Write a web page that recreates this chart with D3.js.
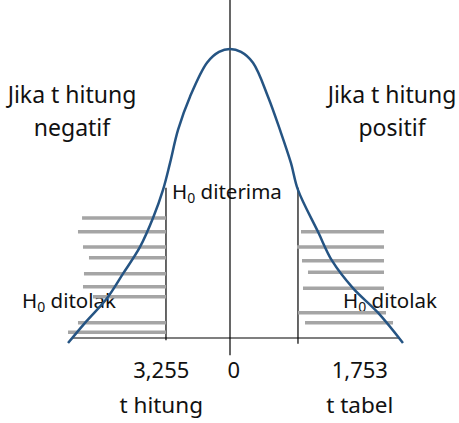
<!DOCTYPE html>
<html>
<head>
<meta charset="utf-8">
<script src="https://cdn.jsdelivr.net/npm/d3@7"></script>
<style>
  body { margin: 0; background: #fff; }
  text { font-family: "Noto Sans", "Open Sans", sans-serif; fill: #111; font-variant-ligatures: none; }
</style>
</head>
<body>
<div id="chart"></div>
<script>
// curve (t value, density)
const curveT = [-2.945, -2.636, -2.236, -1.945, -1.636, -1.4, -1.218, -1.091, -0.945, -0.727, -0.418, -0.2, 0,
                0.2, 0.418, 0.691, 0.909, 1.109, 1.236, 1.6, 1.855, 2.236, 2.691, 3.145];
const curveD = [-0.007, 0.021, 0.055, 0.089, 0.126, 0.166, 0.205, 0.242, 0.288, 0.334, 0.381, 0.396, 0.4,
                0.396, 0.381, 0.334, 0.288, 0.242, 0.205, 0.147, 0.107, 0.069, 0.035, -0.007];

// critical lines (t)
const critT = [-1.164, 1.236];

// hatch stripes: left tail (density level, start t), they end at the left critical line
const leftStripeD = [0.166, 0.147, 0.126, 0.111, 0.089, 0.071, 0.057, 0.021, 0.008];
const leftStripeT0 = [-2.69, -2.764, -2.673, -2.564, -2.655, -2.673, -2.491, -2.764, -2.945];
// right tail (density level, start t, end t)
const rightStripeD = [0.147, 0.126, 0.107, 0.091, 0.069, 0.035, 0.021];
const rightStripeT0 = [1.291, 1.218, 1.309, 1.418, 1.327, 1.236, 1.364];
const rightStripeT1 = [2.8, 2.8, 2.8, 2.8, 2.8, 2.836, 2.964];

// tick labels under the axis
const tickT = [-1.25, 0.07, 2.36];
const tickLabels = ["3,255", "0", "1,753"];
const tickCaptions = ["t hitung", "", "t tabel"];

const width = 459, height = 423;

const svg = d3.select("#chart")
  .append("svg")
  .attr("width", width)
  .attr("height", height);

const x = d3.scaleLinear().domain([-3, 3]).range([65, 395]);
const y = d3.scaleLinear().domain([0, 0.4]).range([338, 49]);

// side notes
const sideNotes = [
  {lines: ["Jika t hitung", "negatif"], cx: 72},
  {lines: ["Jika t hitung", "positif"], cx: 392}
];
sideNotes.forEach(n => {
  n.lines.forEach((s, i) => {
    svg.append("text")
      .attr("x", n.cx)
      .attr("y", 103 + i * 33)
      .attr("text-anchor", "middle")
      .attr("font-size", 23)
      .text(s);
  });
});

// H0 labels
function h0(xPos, yPos, rest) {
  const t = svg.append("text")
    .attr("x", xPos)
    .attr("y", yPos)
    .attr("font-size", 20.5);
  t.append("tspan").text("H");
  t.append("tspan").attr("font-size", 14).attr("dy", 4).text("0");
  t.append("tspan").attr("dy", -4).text(" " + rest);
}
h0(172, 199, "diterima");
h0(22, 308, "ditolak");
h0(343, 308, "ditolak");

// axis lines
svg.append("line")
  .attr("x1", x(-2.855)).attr("x2", x(3.09))
  .attr("y1", y(0)).attr("y2", y(0))
  .attr("stroke", "#000").attr("stroke-width", 1.2);

svg.append("line")
  .attr("x1", x(0)).attr("x2", x(0))
  .attr("y1", y(0.468)).attr("y2", y(-0.024))
  .attr("stroke", "#000").attr("stroke-width", 1.2);

const critBottom = [-0.003, -0.008];
critT.forEach((t, i) => {
  svg.append("line")
    .attr("x1", x(t)).attr("x2", x(t))
    .attr("y1", y(0.208)).attr("y2", y(critBottom[i]))
    .attr("stroke", "#000").attr("stroke-width", 1.2);
});

// stripes
const stripeColor = "#a5a5a5";
svg.selectAll(".stripe-l")
  .data(leftStripeD)
  .enter().append("line")
  .attr("class", "stripe-l")
  .attr("x1", (d, i) => x(leftStripeT0[i]))
  .attr("x2", x(critT[0]))
  .attr("y1", d => y(d)).attr("y2", d => y(d))
  .attr("stroke", stripeColor).attr("stroke-width", 3.5);

svg.selectAll(".stripe-r")
  .data(rightStripeD)
  .enter().append("line")
  .attr("class", "stripe-r")
  .attr("x1", (d, i) => x(rightStripeT0[i]))
  .attr("x2", (d, i) => x(rightStripeT1[i]))
  .attr("y1", d => y(d)).attr("y2", d => y(d))
  .attr("stroke", stripeColor).attr("stroke-width", 3.5);

// bell curve
const line = d3.line()
  .x(d => x(d[0]))
  .y(d => y(d[1]))
  .curve(d3.curveCatmullRom);

svg.append("path")
  .datum(curveT.map((t, i) => [t, curveD[i]]))
  .attr("d", line)
  .attr("fill", "none")
  .attr("stroke", "#255483")
  .attr("stroke-width", 2.5);

// tick labels
tickLabels.forEach((s, i) => {
  svg.append("text")
    .attr("x", x(tickT[i]))
    .attr("y", 378)
    .attr("text-anchor", "middle")
    .attr("font-size", 22)
    .text(s);
  if (tickCaptions[i]) {
    svg.append("text")
      .attr("x", x(tickT[i]))
      .attr("y", 413)
      .attr("text-anchor", "middle")
      .attr("font-size", 22.5)
      .text(tickCaptions[i]);
  }
});
</script>
</body>
</html>
